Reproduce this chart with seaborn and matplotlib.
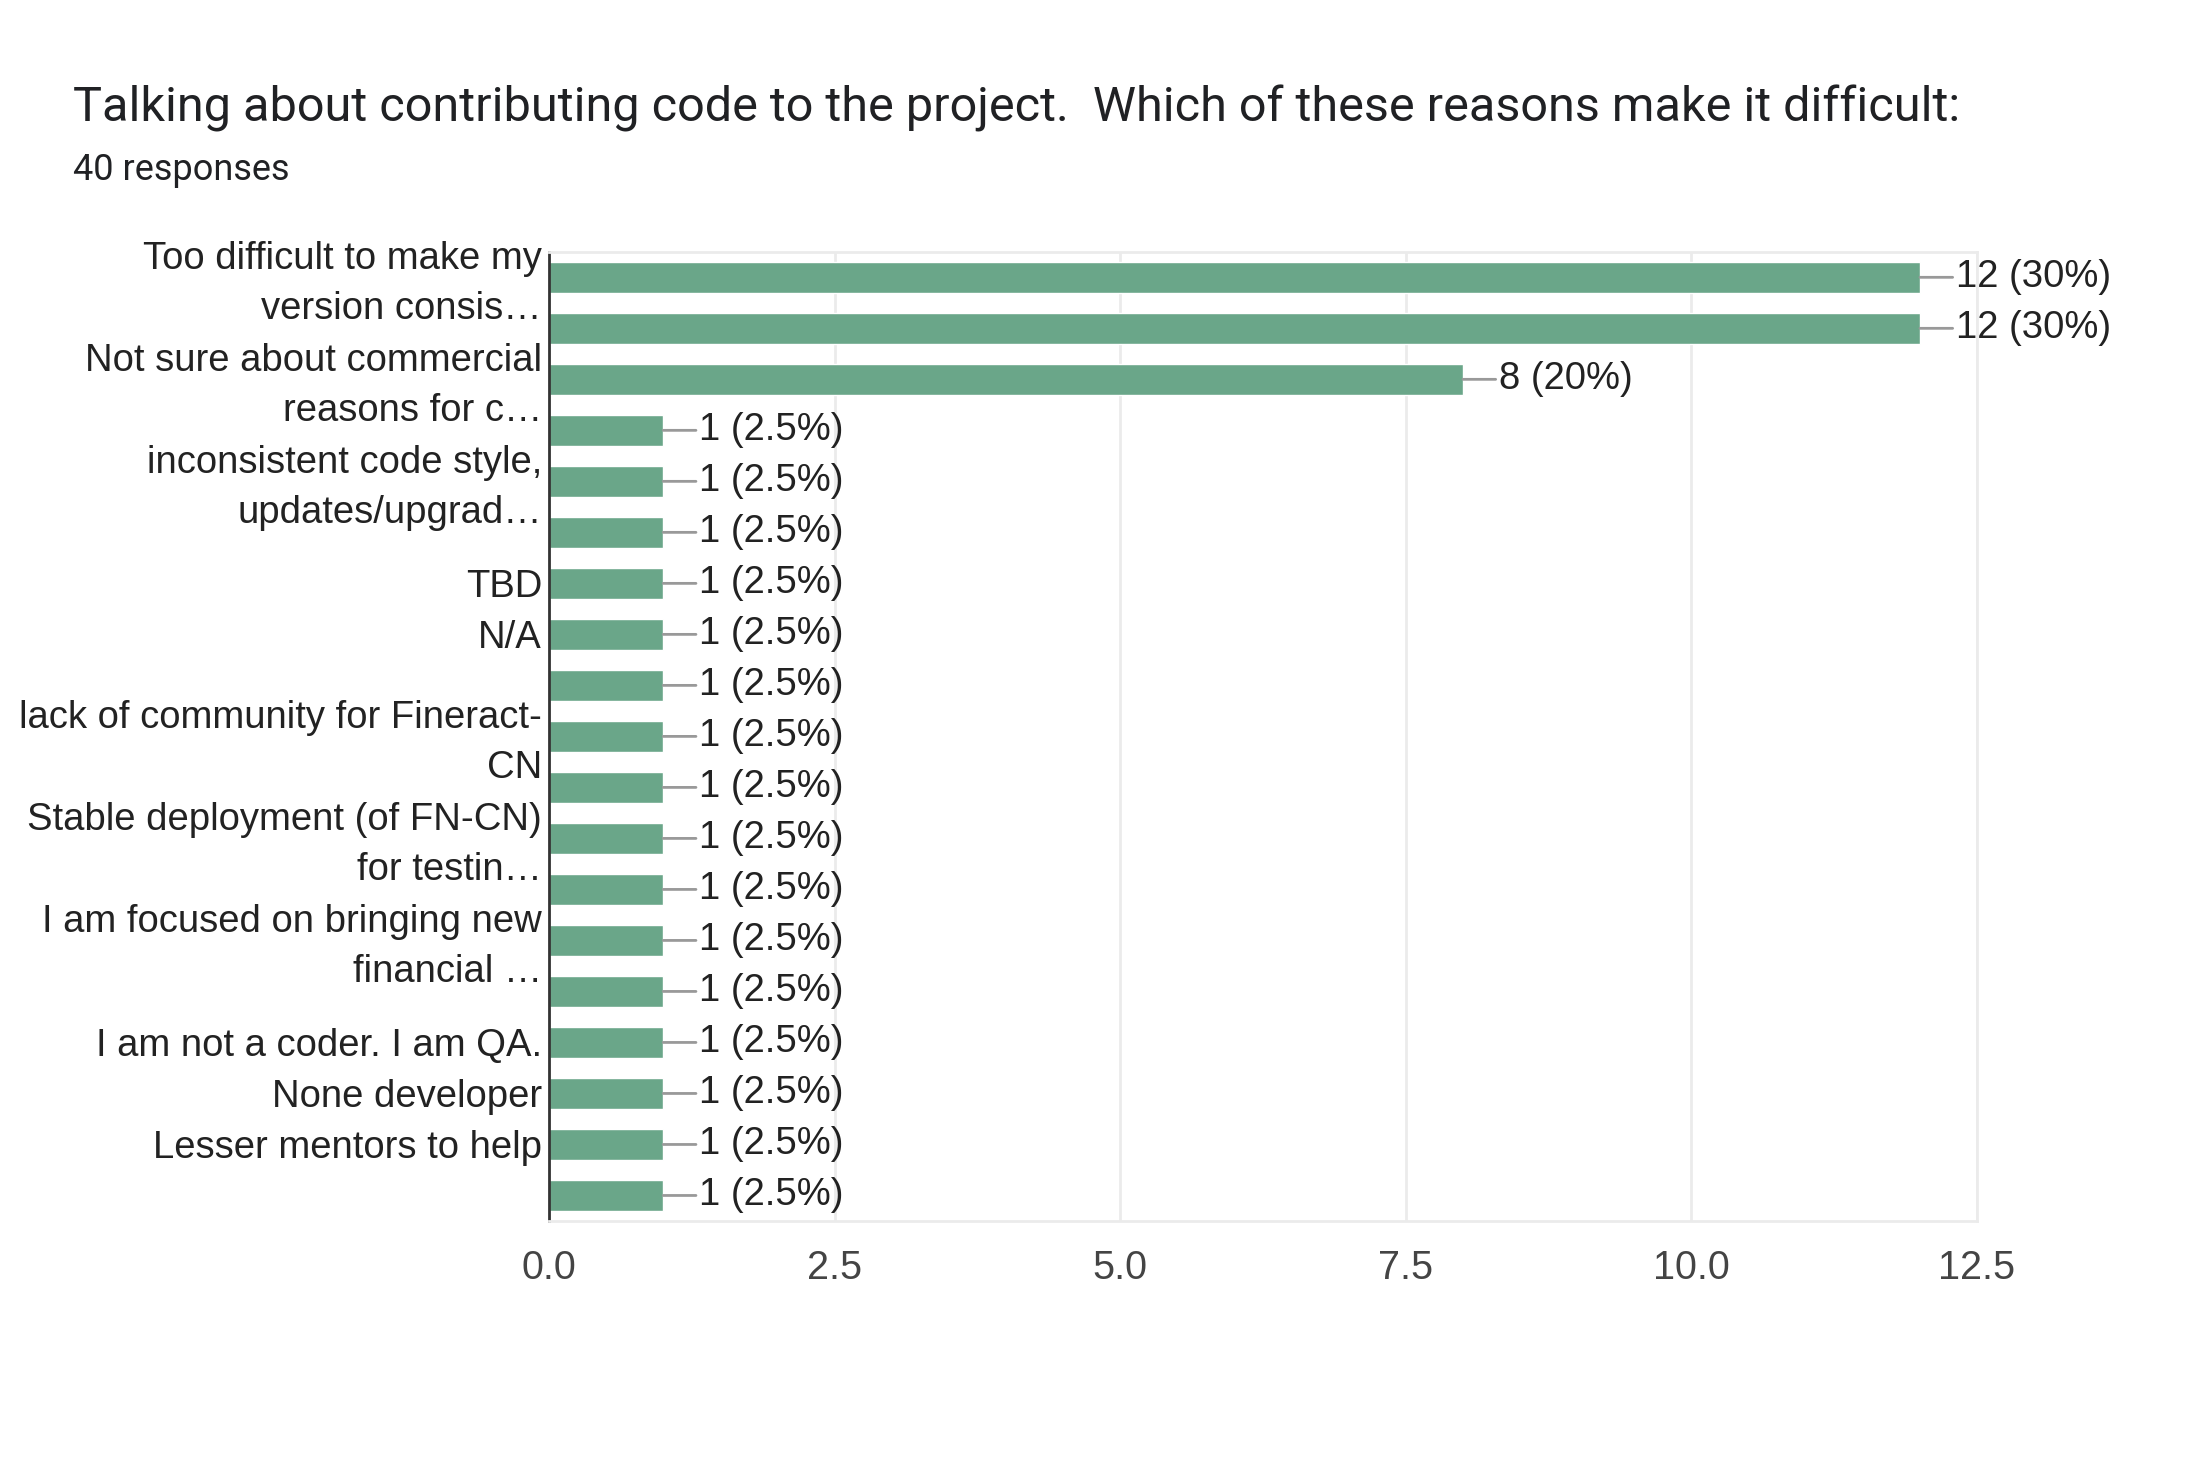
import numpy as np
import pandas as pd
import matplotlib
matplotlib.use("Agg")
import matplotlib.pyplot as plt
import matplotlib.transforms as mtransforms
import seaborn as sns

title = "Talking about contributing code to the project.  Which of these reasons make it difficult:"
subtitle = "40 responses"
total_responses = 40

# labels that google forms actually shows; the rest are blank
labels = [
    "Too difficult to make my\nversion consis…",
    "",
    "Not sure about commercial\nreasons for c…",
    "",
    "inconsistent code style,\nupdates/upgrad…",
    "",
    "TBD",
    "N/A",
    "",
    "lack of community for Fineract-\nCN",
    "",
    "Stable deployment (of FN-CN)\nfor testin…",
    "",
    "I am focused on bringing new\nfinancial …",
    "",
    "I am not a coder. I am QA.",
    "None developer",
    "Lesser mentors to help",
    "",
]
counts = [12, 12, 8, 1, 1, 1, 1, 1, 1, 1, 1, 1, 1, 1, 1, 1, 1, 1, 1]
xticks = [0.0, 2.5, 5.0, 7.5, 10.0, 12.5]

df = pd.DataFrame({"pos": np.arange(len(counts)), "count": counts})

sns.set_style("white")
plt.rcParams["font.family"] = ["Liberation Sans", "DejaVu Sans"]

fig = plt.figure(figsize=(21.96, 14.64), dpi=100)
ax = fig.add_axes([0.25, 0.166, 0.6503, 0.662])

sns.barplot(data=df, x="count", y="pos", orient="h", color="#6aa689",
            saturation=1, width=0.6, ax=ax)

ax.set_xlim(0, 12.5)
ax.set_ylim(len(counts) - 0.5, -0.5)
ax.set_xticks(xticks, [f"{t:.1f}" for t in xticks])
ax.set_yticks(range(len(labels)), labels)
ax.set_xlabel("")
ax.set_ylabel("")
ax.tick_params(axis="y", length=0, pad=5, labelsize=27.5, labelcolor="#222222")
ax.tick_params(axis="x", length=0, pad=20, labelsize=28.5, labelcolor="#444444")

# two-line labels sit a bit high in the original
shift_up = mtransforms.ScaledTranslation(0, 4 / 100, fig.dpi_scale_trans)
for t in ax.get_yticklabels():
    t.set_linespacing(1.5)
    if "\n" in t.get_text():
        t.set_transform(t.get_transform() + shift_up)

ax.grid(axis="x", color="#ebebeb", lw=2)
ax.grid(axis="y", visible=False)
ax.set_axisbelow(True)
for s in ["top", "bottom", "right"]:
    ax.spines[s].set_color("#ebebeb")
    ax.spines[s].set_linewidth(2)
ax.spines["left"].set_color("#333333")
ax.spines["left"].set_linewidth(2)

for i, c in enumerate(counts):
    pct = c / total_responses * 100
    txt = f"{c} ({pct:g}%)"
    ax.annotate(txt, xy=(c, i), xytext=(36, 0), textcoords="offset pixels",
                va="center", ha="left", fontsize=27.5, color="#222222",
                arrowprops=dict(arrowstyle="-", color="#999999", lw=2,
                                shrinkA=0, shrinkB=0))

fig.text(73 / 2196, 1 - 108 / 1464, title, fontsize=35, color="#202124",
         va="center", ha="left", family=["Roboto", "DejaVu Sans"])
fig.text(73 / 2196, 1 - 170 / 1464, subtitle, fontsize=26, color="#202124",
         va="center", ha="left", family=["Roboto", "DejaVu Sans"])

fig.savefig("out.png", dpi=100)
